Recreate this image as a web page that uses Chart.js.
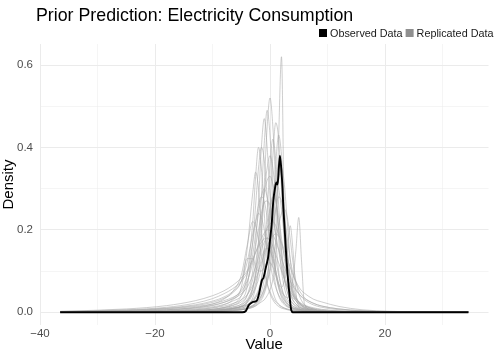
<!DOCTYPE html>
<html>
<head>
<meta charset="utf-8">
<script src="https://cdn.jsdelivr.net/npm/chart.js@4"></script>
<style>
  html, body { margin: 0; padding: 0; background: #fff; }
</style>
</head>
<body>
<canvas id="dens" width="498" height="354"></canvas>
<script>
// observed density (black line)
const obsX = [-36.5, -4.8, -4.2, -3.7, -3.2, -2.9, -2.3, -1.9, -1.4, -1.15, -0.7, -0.3, 0, 0.3, 0.57, 0.86, 1.1, 1.3, 1.45, 1.72, 1.95, 2.18, 2.3, 2.6, 2.9, 3.3, 3.7, 4.0, 34.5];
const obsY = [0, 0, 0.003, 0.017, 0.023, 0.025, 0.028, 0.045, 0.078, 0.083, 0.11, 0.135, 0.175, 0.215, 0.27, 0.30, 0.315, 0.31, 0.33, 0.38, 0.35, 0.30, 0.26, 0.19, 0.12, 0.055, 0.005, 0, 0];

// replicated densities share one x grid
const gridX = [-36.5, -25, -18, -13, -10, -8, -6.5, -5, -4, -3, -2.5, -2, -1.5, -1, -0.5, 0, 0.5, 1, 1.5, 2, 2.5, 3, 3.5, 4, 4.5, 5, 5.5, 6, 7.5, 9, 12, 16, 21, 27, 34.5];
const replicated = [
  [0,0,0,0.001,0.002, 0.003,0.004,0.006,0.008,0.012, 0.015,0.02,0.025,0.03,0.04, 0.055,0.08,0.14,0.42,0.62, 0.2,0.1,0.06,0.04,0.028, 0.02,0.015,0.012,0.006,0.004, 0.002,0.001,0,0,0],
  [0,0,0.001,0.002,0.003, 0.005,0.007,0.01,0.016,0.035, 0.06,0.1,0.18,0.31,0.45, 0.52,0.45,0.31,0.18,0.1, 0.06,0.035,0.022,0.015,0.011, 0.008,0.006,0.005,0.003,0.002, 0.001,0,0,0,0],
  [0,0,0.001,0.002,0.004, 0.006,0.009,0.014,0.025,0.06, 0.1,0.17,0.28,0.41,0.49, 0.43,0.3,0.18,0.1,0.06, 0.035,0.022,0.015,0.01,0.008, 0.006,0.005,0.004,0.002,0.001, 0.001,0,0,0,0],
  [0,0,0.001,0.003,0.005, 0.008,0.012,0.02,0.04,0.1, 0.17,0.27,0.4,0.47,0.4, 0.28,0.17,0.1,0.06,0.036, 0.022,0.015,0.01,0.007,0.005, 0.004,0.003,0.003,0.002,0.001, 0,0,0,0,0],
  [0,0.001,0.002,0.004,0.007, 0.012,0.02,0.04,0.09,0.22, 0.33,0.4,0.35,0.24,0.14, 0.08,0.05,0.03,0.02,0.014, 0.01,0.007,0.005,0.004,0.003, 0.003,0.002,0.002,0.001,0.001, 0,0,0,0,0],
  [0,0,0,0.001,0.002, 0.003,0.005,0.007,0.01,0.016, 0.022,0.032,0.05,0.08,0.14, 0.25,0.38,0.46,0.42,0.3, 0.17,0.09,0.05,0.03,0.02, 0.014,0.01,0.008,0.004,0.002, 0.001,0,0,0,0],
  [0,0,0,0.001,0.002, 0.003,0.004,0.006,0.009,0.014, 0.018,0.025,0.035,0.05,0.08, 0.14,0.24,0.36,0.43,0.38, 0.26,0.15,0.08,0.045,0.028, 0.018,0.012,0.009,0.004,0.002, 0.001,0,0,0,0],
  [0,0.001,0.002,0.004,0.007, 0.011,0.017,0.03,0.06,0.17, 0.26,0.35,0.4,0.37,0.28, 0.18,0.11,0.065,0.04,0.026, 0.018,0.013,0.01,0.008,0.006, 0.005,0.004,0.003,0.002,0.001, 0.001,0,0,0,0],
  [0,0.001,0.003,0.006,0.011, 0.018,0.03,0.06,0.15,0.29, 0.34,0.3,0.2,0.12,0.07, 0.045,0.03,0.02,0.014,0.01, 0.008,0.006,0.005,0.004,0.003, 0.003,0.002,0.002,0.001,0.001, 0,0,0,0,0],
  [0,0,0.001,0.002,0.003, 0.005,0.007,0.01,0.015,0.025, 0.035,0.05,0.08,0.14,0.24, 0.36,0.42,0.37,0.26,0.15, 0.085,0.05,0.03,0.02,0.014, 0.01,0.008,0.006,0.003,0.002, 0.001,0,0,0,0],
  [0,0.001,0.002,0.004,0.007, 0.011,0.016,0.025,0.04,0.08, 0.12,0.17,0.23,0.29,0.32, 0.33,0.31,0.27,0.21,0.15, 0.1,0.065,0.042,0.028,0.02, 0.014,0.01,0.008,0.004,0.002, 0.001,0,0,0,0],
  [0,0.002,0.004,0.008,0.013, 0.019,0.027,0.04,0.07,0.14, 0.19,0.24,0.28,0.3,0.28, 0.24,0.18,0.13,0.09,0.06, 0.04,0.027,0.019,0.014,0.011, 0.008,0.006,0.005,0.003,0.002, 0.001,0,0,0,0],
  [0,0,0.001,0.002,0.004, 0.006,0.009,0.013,0.018,0.03, 0.04,0.055,0.08,0.12,0.17, 0.23,0.29,0.32,0.3,0.25, 0.18,0.12,0.08,0.05,0.035, 0.024,0.017,0.012,0.006,0.003, 0.001,0,0,0,0],
  [0,0,0,0.001,0.002, 0.003,0.004,0.006,0.008,0.012, 0.016,0.022,0.03,0.045,0.07, 0.11,0.17,0.25,0.32,0.35, 0.31,0.22,0.13,0.07,0.04, 0.025,0.015,0.01,0.005,0.002, 0.001,0,0,0,0],
  [0.001,0.004,0.008,0.014,0.02, 0.028,0.036,0.05,0.075,0.12, 0.16,0.2,0.24,0.265,0.27, 0.26,0.23,0.19,0.15,0.11, 0.08,0.06,0.045,0.035,0.028, 0.022,0.018,0.015,0.009,0.006, 0.003,0.001,0,0,0],
  [0,0,0.001,0.002,0.004, 0.006,0.009,0.013,0.018,0.028, 0.036,0.048,0.065,0.09,0.12, 0.16,0.21,0.25,0.28,0.27, 0.23,0.18,0.13,0.095,0.072, 0.055,0.044,0.035,0.022,0.015, 0.008,0.004,0.002,0.001,0],
  [0.001,0.005,0.01,0.018,0.027, 0.037,0.05,0.075,0.12,0.19, 0.22,0.24,0.23,0.2,0.16, 0.12,0.085,0.06,0.042,0.03, 0.022,0.016,0.012,0.009,0.007, 0.006,0.005,0.004,0.002,0.001, 0.001,0,0,0,0],
  [0.001,0.003,0.006,0.011,0.017, 0.024,0.032,0.045,0.06,0.09, 0.11,0.135,0.16,0.185,0.205, 0.215,0.22,0.21,0.19,0.165, 0.14,0.115,0.09,0.07,0.056, 0.045,0.037,0.03,0.018,0.012, 0.006,0.003,0.001,0,0],
  [0,0,0.001,0.002,0.004, 0.006,0.009,0.014,0.022,0.045, 0.07,0.1,0.13,0.15,0.155, 0.15,0.13,0.1,0.07,0.05, 0.04,0.035,0.045,0.08,0.15, 0.23,0.12,0.02,0.004,0.001, 0,0,0,0,0],
  [0,0,0.001,0.002,0.004, 0.006,0.01,0.016,0.03,0.06, 0.09,0.12,0.15,0.17,0.18, 0.17,0.14,0.1,0.07,0.06, 0.08,0.14,0.21,0.15,0.05, 0.012,0.004,0.002,0.001,0, 0,0,0,0,0],
  [0.001,0.004,0.009,0.016,0.024, 0.034,0.047,0.075,0.13,0.13, 0.11,0.1,0.1,0.11,0.12, 0.12,0.11,0.09,0.065,0.045, 0.03,0.02,0.014,0.01,0.008, 0.006,0.005,0.004,0.002,0.001, 0,0,0,0,0],
  [0.002,0.008,0.016,0.028,0.04, 0.052,0.065,0.083,0.1,0.13, 0.145,0.16,0.17,0.178,0.18, 0.175,0.16,0.14,0.12,0.1, 0.08,0.063,0.05,0.04,0.032, 0.026,0.021,0.017,0.011,0.007, 0.003,0.001,0,0,0],
  [0,0.001,0.003,0.006,0.01, 0.015,0.021,0.03,0.042,0.065, 0.08,0.1,0.12,0.14,0.16, 0.175,0.185,0.19,0.185,0.17, 0.15,0.13,0.11,0.09,0.075, 0.062,0.052,0.046,0.032,0.025, 0.014,0.006,0.002,0.001,0],
  [0,0,0.001,0.002,0.004, 0.006,0.009,0.014,0.024,0.055, 0.09,0.14,0.21,0.29,0.35, 0.38,0.35,0.28,0.2,0.13, 0.08,0.05,0.032,0.022,0.016, 0.012,0.009,0.007,0.004,0.002, 0.001,0,0,0,0],
  [0,0.002,0.005,0.01,0.016, 0.024,0.034,0.055,0.09,0.17, 0.22,0.26,0.28,0.27,0.23, 0.18,0.13,0.09,0.06,0.04, 0.028,0.02,0.015,0.011,0.009, 0.007,0.006,0.005,0.003,0.002, 0.001,0,0,0,0],
  [0,0,0.001,0.002,0.003, 0.004,0.006,0.008,0.011,0.017, 0.022,0.03,0.04,0.055,0.075, 0.1,0.13,0.17,0.21,0.24, 0.25,0.23,0.18,0.12,0.075, 0.045,0.028,0.018,0.008,0.004, 0.002,0.001,0,0,0],
  [0.002,0.006,0.012,0.022,0.033, 0.045,0.057,0.075,0.095,0.125, 0.145,0.165,0.18,0.192,0.2, 0.198,0.188,0.172,0.152,0.13, 0.11,0.092,0.076,0.063,0.053, 0.045,0.038,0.033,0.022,0.015, 0.008,0.003,0.001,0,0],
  [0,0.002,0.006,0.012,0.02, 0.032,0.05,0.09,0.16,0.22, 0.21,0.18,0.14,0.1,0.07, 0.05,0.035,0.025,0.018,0.013, 0.01,0.008,0.006,0.005,0.004, 0.003,0.003,0.002,0.001,0.001, 0,0,0,0,0],
  [0,0.001,0.002,0.004,0.006, 0.009,0.013,0.019,0.028,0.045, 0.06,0.08,0.11,0.15,0.2, 0.25,0.28,0.27,0.23,0.18, 0.13,0.09,0.065,0.045,0.033, 0.025,0.019,0.015,0.008,0.004, 0.002,0.001,0,0,0],
  [0,0,0,0.001,0.002, 0.003,0.004,0.006,0.009,0.015, 0.02,0.028,0.04,0.06,0.09, 0.14,0.21,0.3,0.36,0.33, 0.24,0.15,0.09,0.055,0.035, 0.024,0.017,0.012,0.006,0.003, 0.001,0,0,0,0]
];

const xTicks = [-40, -20, 0, 20];
const yTicks = [0, 0.2, 0.4, 0.6];
const titleText = 'Prior Prediction: Electricity Consumption';
const legendItems = [['Observed Data', '#000000'], ['Replicated Data', '#8f8f8f']];

Chart.defaults.font.family = '"Liberation Sans", Arial, sans-serif';

const datasets = [{
  label: 'Observed Data',
  data: obsX.map((x, i) => ({ x: x, y: obsY[i] })),
  borderColor: '#000',
  borderWidth: 1.9,
  pointRadius: 0,
  cubicInterpolationMode: 'monotone',
  order: 0
}];
replicated.forEach(ys => {
  datasets.push({
    label: 'Replicated Data',
    data: gridX.map((x, i) => ({ x: x, y: ys[i] })),
    borderColor: 'rgba(165,165,165,0.55)',
    borderWidth: 1,
    pointRadius: 0,
    cubicInterpolationMode: 'monotone',
    order: 1
  });
});

const minus = v => (v < 0 ? '\u2212' + Math.abs(v) : String(v));
const isMajorX = v => xTicks.includes(v);
const isMajorY = v => yTicks.some(t => Math.abs(t - v) < 1e-6);

// title and legend drawn in ggplot style above the panel
const header = {
  id: 'header',
  afterDraw(chart) {
    const c = chart.ctx;
    c.save();
    c.fillStyle = '#000';
    c.textBaseline = 'alphabetic';
    c.font = '17.8px "Liberation Sans", Arial, sans-serif';
    c.fillText(titleText, 36, 21);
    c.font = '10.8px "Liberation Sans", Arial, sans-serif';
    let x = 319;
    legendItems.forEach(([txt, col]) => {
      c.fillStyle = col;
      c.fillRect(x, 29, 8, 8);
      c.fillStyle = '#1a1a1a';
      c.fillText(txt, x + 11, 37);
      x += 11 + c.measureText(txt).width + 3;
    });
    c.restore();
  }
};

new Chart(document.getElementById('dens'), {
  type: 'line',
  data: { datasets },
  plugins: [header],
  options: {
    responsive: false,
    animation: false,
    devicePixelRatio: 1,
    layout: { padding: { top: 44, right: 9.5, left: 0, bottom: 0 } },
    plugins: { legend: { display: false }, tooltip: { enabled: false } },
    scales: {
      x: {
        type: 'linear',
        min: -40,
        max: 38,
        afterFit: s => { s.height = 29; },
        border: { display: false },
        grid: {
          color: '#ebebeb',
          lineWidth: c => (isMajorX(c.tick.value) ? 1 : 0.5),
          drawTicks: false
        },
        ticks: {
          stepSize: 10,
          includeBounds: false,
          autoSkip: false,
          maxRotation: 0,
          padding: 2,
          color: '#4d4d4d',
          font: { size: 11.5 },
          callback: v => (isMajorX(v) ? minus(v) : '')
        },
        title: { display: true, text: 'Value', color: '#000', font: { size: 15 }, padding: 0 }
      },
      y: {
        min: -0.031,
        max: 0.651,
        afterFit: s => { s.width = 40; },
        border: { display: false },
        grid: {
          color: '#ebebeb',
          lineWidth: c => (isMajorY(c.tick.value) ? 1 : 0.5),
          drawTicks: false
        },
        ticks: {
          stepSize: 0.1,
          includeBounds: false,
          padding: 7,
          color: '#4d4d4d',
          font: { size: 11.5 },
          callback: v => (isMajorY(v) ? v.toFixed(1) : '')
        },
        title: { display: true, text: 'Density', color: '#000', font: { size: 15 }, padding: 0 }
      }
    }
  }
});
</script>
</body>
</html>
